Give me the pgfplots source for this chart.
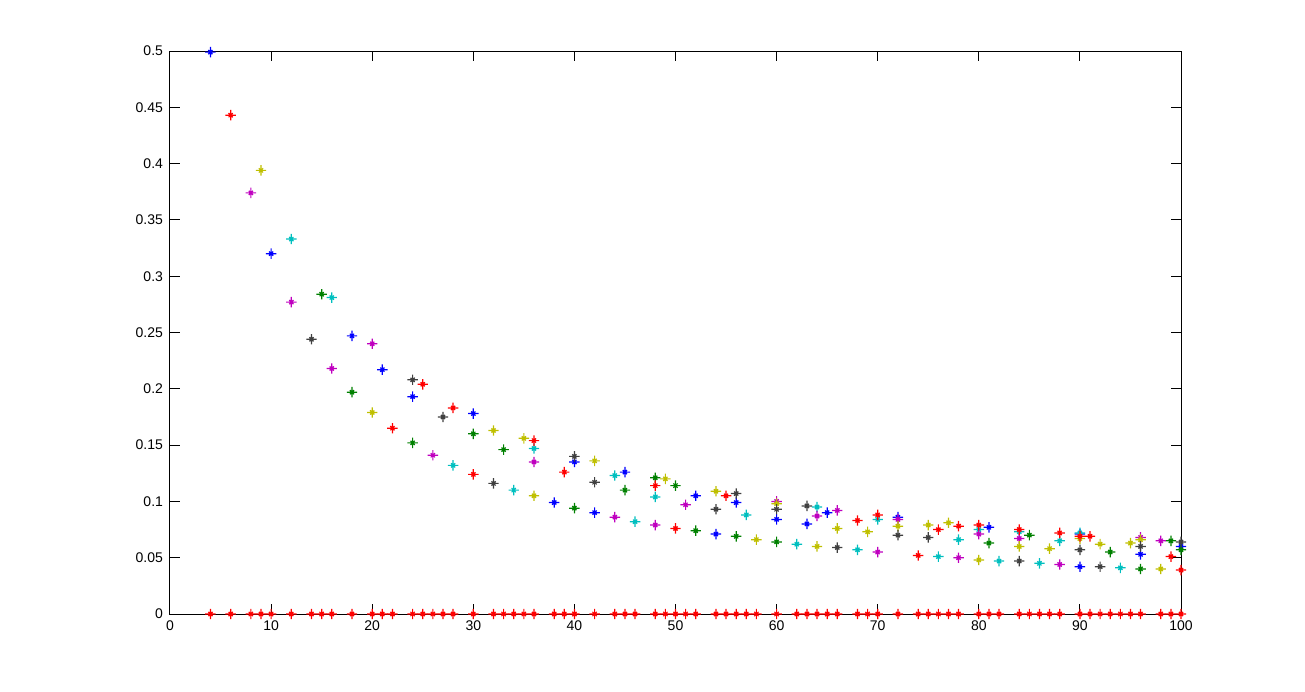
\documentclass[border=0pt]{standalone}
\usepackage{pgfplots}
\pgfplotsset{compat=1.18}
\usepackage{fontspec}
\setmainfont{Liberation Sans}
\definecolor{mb}{rgb}{0,0,1}
\definecolor{mg}{rgb}{0,0.5,0}
\definecolor{mr}{rgb}{1,0,0}
\definecolor{mc}{rgb}{0,0.75,0.75}
\definecolor{mm}{rgb}{0.75,0,0.75}
\definecolor{my}{rgb}{0.75,0.75,0}
\definecolor{mk}{rgb}{0.25,0.25,0.25}
% matlab-like '*' : a plus with a short cross in the middle
\pgfdeclareplotmark{mstar}{%
  \pgfpathmoveto{\pgfqpoint{-\pgfplotmarksize}{0pt}}%
  \pgfpathlineto{\pgfqpoint{\pgfplotmarksize}{0pt}}%
  \pgfpathmoveto{\pgfqpoint{0pt}{-\pgfplotmarksize}}%
  \pgfpathlineto{\pgfqpoint{0pt}{\pgfplotmarksize}}%
  \pgfpathmoveto{\pgfqpoint{-0.4\pgfplotmarksize}{-0.4\pgfplotmarksize}}%
  \pgfpathlineto{\pgfqpoint{0.4\pgfplotmarksize}{0.4\pgfplotmarksize}}%
  \pgfpathmoveto{\pgfqpoint{-0.4\pgfplotmarksize}{0.4\pgfplotmarksize}}%
  \pgfpathlineto{\pgfqpoint{0.4\pgfplotmarksize}{-0.4\pgfplotmarksize}}%
  \pgfusepathqstroke}
\begin{document}
\begin{tikzpicture}
\path[use as bounding box] (-85pt,-38.5pt) rectangle (567.5pt,307pt);
\begin{axis}[
  scale only axis, width=505.5pt, height=281.5pt,
  xmin=0, xmax=100, ymin=0, ymax=0.5,
  xtick={0,10,...,100},
  ytick={0,0.05,0.1,0.15,0.2,0.25,0.3,0.35,0.4,0.45,0.5},
  yticklabels={0,0.05,0.1,0.15,0.2,0.25,0.3,0.35,0.4,0.45,0.5},
  tick align=inside, major tick length=5pt,
  tick style={black, line width=0.5pt},
  axis line style={line width=0.5pt},
  ticklabel style={font=\fontsize{7}{8}\selectfont},
  /pgf/number format/assume math mode=true,
  clip=false,
  every axis plot/.append style={only marks, mark=mstar, mark size=2.6pt, line width=0.6pt},
]
\addplot[mb] coordinates {(4,0.499) (10,0.320) (18,0.247) (21,0.217) (24,0.193) (30,0.178) (38,0.099) (40,0.135) (42,0.090) (45,0.126) (52,0.105) (54,0.071) (56,0.099) (60,0.084) (63,0.080) (65,0.090) (72,0.086) (81,0.077) (90,0.071) (90,0.042) (96,0.053) (100,0.060)};
\addplot[mg] coordinates {(15,0.284) (18,0.197) (24,0.152) (30,0.160) (33,0.146) (40,0.094) (45,0.110) (48,0.121) (50,0.114) (52,0.074) (56,0.069) (60,0.064) (81,0.063) (85,0.070) (93,0.055) (96,0.040) (99,0.065) (100,0.057)};
\addplot[mc] coordinates {(12,0.333) (16,0.281) (28,0.132) (34,0.110) (36,0.147) (44,0.123) (46,0.082) (48,0.104) (57,0.088) (62,0.062) (64,0.095) (68,0.057) (70,0.084) (76,0.051) (78,0.066) (80,0.075) (82,0.047) (84,0.073) (86,0.045) (88,0.065) (90,0.072) (94,0.041)};
\addplot[mm] coordinates {(8,0.374) (12,0.277) (16,0.218) (20,0.240) (26,0.141) (36,0.135) (44,0.086) (48,0.079) (51,0.097) (60,0.100) (64,0.087) (66,0.092) (70,0.055) (72,0.084) (78,0.050) (80,0.071) (84,0.067) (88,0.044) (96,0.068) (98,0.065)};
\addplot[my] coordinates {(9,0.394) (20,0.179) (32,0.163) (35,0.156) (36,0.105) (42,0.136) (49,0.120) (54,0.109) (58,0.066) (60,0.098) (64,0.060) (66,0.076) (69,0.073) (72,0.078) (75,0.079) (77,0.081) (80,0.048) (84,0.060) (87,0.058) (90,0.067) (92,0.062) (95,0.063) (96,0.066) (98,0.040)};
\addplot[mk] coordinates {(14,0.244) (24,0.208) (27,0.175) (32,0.116) (40,0.140) (42,0.117) (54,0.093) (56,0.107) (60,0.093) (63,0.096) (66,0.059) (72,0.070) (75,0.068) (84,0.047) (90,0.057) (92,0.042) (96,0.060) (100,0.064)};
\addplot[mr] coordinates {(6,0.443) (22,0.165) (25,0.204) (28,0.183) (30,0.124) (36,0.154) (39,0.126) (48,0.114) (50,0.076) (55,0.105) (68,0.083) (70,0.088) (74,0.052) (76,0.075) (78,0.078) (80,0.079) (84,0.075) (88,0.072) (90,0.069) (91,0.069) (99,0.051) (100,0.039)};
\addplot[mr] coordinates {(4,0) (6,0) (8,0) (9,0) (10,0) (12,0) (14,0) (15,0) (16,0) (18,0) (20,0) (21,0) (22,0) (24,0) (25,0) (26,0) (27,0) (28,0) (30,0) (32,0) (33,0) (34,0) (35,0) (36,0) (38,0) (39,0) (40,0) (42,0) (44,0) (45,0) (46,0) (48,0) (49,0) (50,0) (51,0) (52,0) (54,0) (55,0) (56,0) (57,0) (58,0) (60,0) (62,0) (63,0) (64,0) (65,0) (66,0) (68,0) (69,0) (70,0) (72,0) (74,0) (75,0) (76,0) (77,0) (78,0) (80,0) (81,0) (82,0) (84,0) (85,0) (86,0) (87,0) (88,0) (90,0) (91,0) (92,0) (93,0) (94,0) (95,0) (96,0) (98,0) (99,0) (100,0)};
\end{axis}
\end{tikzpicture}
\end{document}
